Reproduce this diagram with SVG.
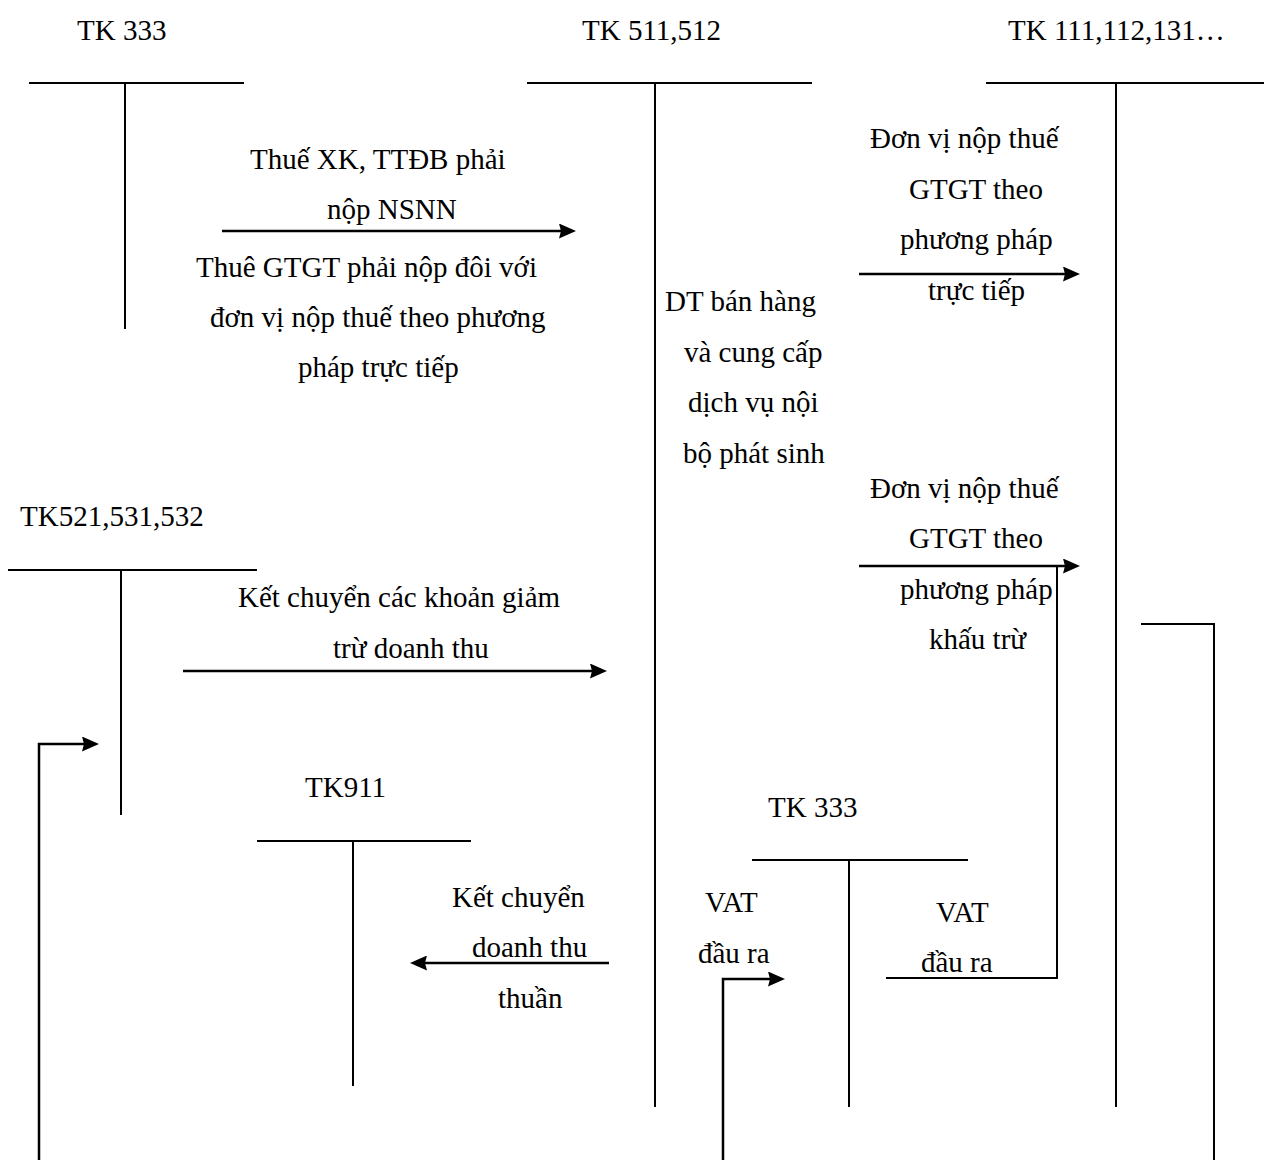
<svg xmlns="http://www.w3.org/2000/svg" width="1264" height="1160" viewBox="0 0 1264 1160">
  <style>
    text { font-family: "Liberation Serif", "Times New Roman", serif; font-size: 29px; fill: #000; }
    .t { stroke: #000; stroke-width: 2; fill: none; }
    .c { stroke: #000; stroke-width: 2.5; fill: none; }
    .arrow { marker-end: url(#head); }
  </style>
  <defs>
    <marker id="head" markerUnits="userSpaceOnUse" viewBox="0 0 17 15" refX="8" refY="7.5" markerWidth="17" markerHeight="15" orient="auto">
      <path d="M0,0 L17,7.5 L0,15 L2,7.5 Z" fill="#000"/>
    </marker>
  </defs>
  <rect width="1264" height="1160" fill="#fff"/>

  <!-- T-accounts -->
  <g id="tk333-top">
    <text x="77" y="40">TK 333</text>
    <path class="t" d="M29,83 H244 M125,83 V329"/>
  </g>
  <g id="tk511">
    <text x="582" y="40">TK 511,512</text>
    <path class="t" d="M527,83 H812 M655,83 V1107"/>
  </g>
  <g id="tk111">
    <text x="1008" y="40">TK 111,112,131…</text>
    <path class="t" d="M986,83 H1264 M1116,83 V1107"/>
  </g>
  <g id="tk521">
    <text x="20" y="526">TK521,531,532</text>
    <path class="t" d="M8,570 H257 M121,570 V815"/>
  </g>
  <g id="tk911">
    <text x="305" y="797">TK911</text>
    <path class="t" d="M257,841 H471 M353,841 V1086"/>
  </g>
  <g id="tk333-bottom">
    <text x="768" y="817">TK 333</text>
    <path class="t" d="M752,860 H968 M849,860 V1107"/>
  </g>

  <!-- Connectors -->
  <g id="connectors">
    <path class="c arrow" d="M222,231 H567"/>
    <path class="c arrow" d="M859,274 H1071"/>
    <path class="c arrow" d="M859,566 H1071"/>
    <path class="c arrow" d="M183,671 H598"/>
    <path class="c arrow" d="M39,1160 V744 H90"/>
    <path class="c arrow" d="M609,963 H419"/>
    <path class="c arrow" d="M723,1160 V979 H776"/>
    <path class="t" d="M886,978 H1057 V566"/>
    <path class="t" d="M1141,624 H1214 V1160"/>
  </g>

  <!-- Entry labels -->
  <g id="labels">
    <text x="250" y="169">Thuế XK, TTĐB phải</text>
    <text x="327" y="219">nộp NSNN</text>
    <text x="196" y="277">Thuê GTGT phải nộp đôi với</text>
    <text x="210" y="327">đơn vị nộp thuế theo phương</text>
    <text x="298" y="377">pháp trực tiếp</text>

    <text x="870" y="148">Đơn vị nộp thuế</text>
    <text x="909" y="199">GTGT theo</text>
    <text x="900" y="249">phương pháp</text>
    <text x="928" y="300">trực tiếp</text>

    <text x="665" y="311">DT bán hàng</text>
    <text x="684" y="362">và cung cấp</text>
    <text x="688" y="412">dịch vụ nội</text>
    <text x="683" y="463">bộ phát sinh</text>

    <text x="870" y="498">Đơn vị nộp thuế</text>
    <text x="909" y="548">GTGT theo</text>
    <text x="900" y="599">phương pháp</text>
    <text x="929" y="649">khấu trừ</text>

    <text x="238" y="607">Kết chuyển các khoản giảm</text>
    <text x="333" y="658">trừ doanh thu</text>

    <text x="452" y="907">Kết chuyển</text>
    <text x="472" y="957">doanh thu</text>
    <text x="498" y="1008">thuần</text>

    <text x="705" y="912">VAT</text>
    <text x="698" y="963">đầu ra</text>

    <text x="936" y="922">VAT</text>
    <text x="921" y="972">đầu ra</text>
  </g>
</svg>
